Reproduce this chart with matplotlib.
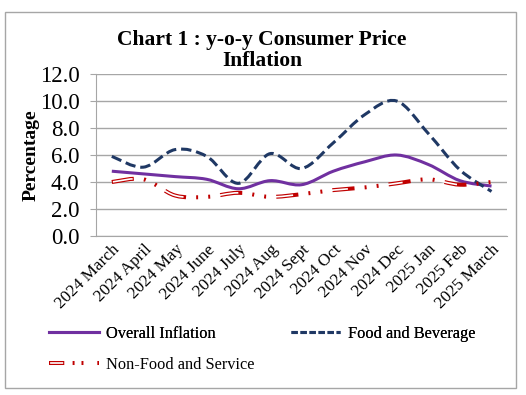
import matplotlib
matplotlib.use("Agg")
import matplotlib.pyplot as plt
from matplotlib.path import Path
from matplotlib.patches import PathPatch, Rectangle
from matplotlib.lines import Line2D
from matplotlib.legend_handler import HandlerTuple
import numpy as np

plt.rcParams['font.family'] = ['Liberation Serif', 'DejaVu Serif']
plt.rcParams['lines.scale_dashes'] = False

months = ["2024 March", "2024 April", "2024 May", "2024 June", "2024 July",
          "2024 Aug", "2024 Sept", "2024 Oct", "2024 Nov", "2024 Dec",
          "2025 Jan", "2025 Feb", "2025 March"]
overall = [4.8, 4.6, 4.4, 4.2, 3.5, 4.1, 3.8, 4.8, 5.5, 6.0, 5.3, 4.1, 3.7]
food = [5.9, 5.1, 6.4, 5.9, 3.9, 6.1, 5.0, 6.9, 9.0, 10.0, 7.6, 4.9, 3.3]
nonfood = [4.0, 4.2, 3.0, 2.9, 3.2, 2.9, 3.1, 3.4, 3.6, 3.9, 4.2, 3.8, 4.0]
yticks = [0, 2, 4, 6, 8, 10, 12]
title = "Chart 1 : y-o-y Consumer Price\nInflation"
ylabel = "Percentage"
names = ["Overall Inflation", "Food and Beverage", "Non-Food and Service"]

purple = "#7030A0"
navy = "#1F3864"
red = "#C00000"


def smooth_path(xs, ys):
    pts = np.column_stack([xs, ys]).astype(float)
    n = len(pts)
    verts = [pts[0]]
    codes = [Path.MOVETO]
    for i in range(n - 1):
        p0 = pts[i - 1] if i > 0 else pts[i]
        p1 = pts[i]
        p2 = pts[i + 1]
        p3 = pts[i + 2] if i + 2 < n else pts[i + 1]
        c1 = p1 + (p2 - p0) / 6.0
        c2 = p2 - (p3 - p1) / 6.0
        verts += [c1, c2, p2]
        codes += [Path.CURVE4] * 3
    return Path(verts, codes)


fig = plt.figure(figsize=(5.26, 3.95), dpi=100)
fig.patches.append(Rectangle((0.0095, 0.018), 0.972, 0.951, transform=fig.transFigure,
                             fill=False, edgecolor="#A6A6A6", linewidth=1.0))

ax = fig.add_axes([0.1825, 0.4025, 0.782, 0.4102])
x = np.arange(len(months))

for sp in ["top", "right"]:
    ax.spines[sp].set_visible(False)
for sp in ["left", "bottom"]:
    ax.spines[sp].set_color("#A6A6A6")
ax.set_ylim(0, 12)
ax.set_xlim(-0.5, len(months) - 0.5)
ax.set_yticks(yticks)
ax.set_yticklabels([f"{v:.1f}" for v in yticks], fontsize=16.5)
ax.yaxis.grid(True, color="#A6A6A6", linewidth=1.0)
ax.set_axisbelow(True)
ax.tick_params(axis="y", length=4, color="#A6A6A6", pad=8)
ax.set_xticks(x)
ax.set_xticklabels(months, rotation=45, ha="right", va="top", rotation_mode="anchor",
                   fontsize=12.3)
ax.tick_params(axis="x", length=0, pad=4)
ax.set_ylabel(ylabel, fontsize=14, fontweight="bold", labelpad=0)

# Overall
ax.add_patch(PathPatch(smooth_path(x, overall), fill=False, edgecolor=purple,
                       linewidth=2.2, capstyle="butt"))
# Food
ax.add_patch(PathPatch(smooth_path(x, food), fill=False, edgecolor=navy,
                       linewidth=2.2, linestyle=(0, (7.5, 3.5)), capstyle="butt"))
# Non-food: hollow dash + dots
nf_outer = (0, (16, 7.3, 1.4, 7.3, 1.4, 7.3))
nf_inner = (-0.8, (14.4, 25.3))
ax.add_patch(PathPatch(smooth_path(x, nonfood), fill=False, edgecolor=red,
                       linewidth=2.9, linestyle=nf_outer, capstyle="butt"))
ax.add_patch(PathPatch(smooth_path(x, nonfood), fill=False, edgecolor="white",
                       linewidth=1.2, linestyle=nf_inner, capstyle="butt"))

fig.text(0.498, 0.872, title, ha="center", va="center", fontsize=15.5,
         fontweight="bold", linespacing=1.1)

# Legend
h1 = Line2D([], [], color=purple, linewidth=2.2)
h2 = Line2D([], [], color=navy, linewidth=2.2, linestyle=(0, (4.5, 2)))
leg1 = fig.legend([h1, h2], names[:2], loc="center left", bbox_to_anchor=(0.066, 0.155),
                  ncol=2, frameon=False, fontsize=11.8, handlelength=3.0,
                  columnspacing=4.6, handletextpad=0.45)
h3a = Line2D([], [], color=red, linewidth=2.9, linestyle=(0, (11, 6, 1.4, 5, 1.4, 10)))
h3b = Line2D([], [], color="white", linewidth=1.2, linestyle=(-0.8, (9.4, 30)))
leg2 = fig.legend([(h3a, h3b)], names[2:], loc="center left", bbox_to_anchor=(0.066, 0.077),
                  frameon=False, fontsize=11.8, handlelength=3.0, handletextpad=0.45,
                  handler_map={tuple: HandlerTuple(ndivide=1)})
fig.add_artist(leg1)

fig.savefig("out.png", dpi=100)
